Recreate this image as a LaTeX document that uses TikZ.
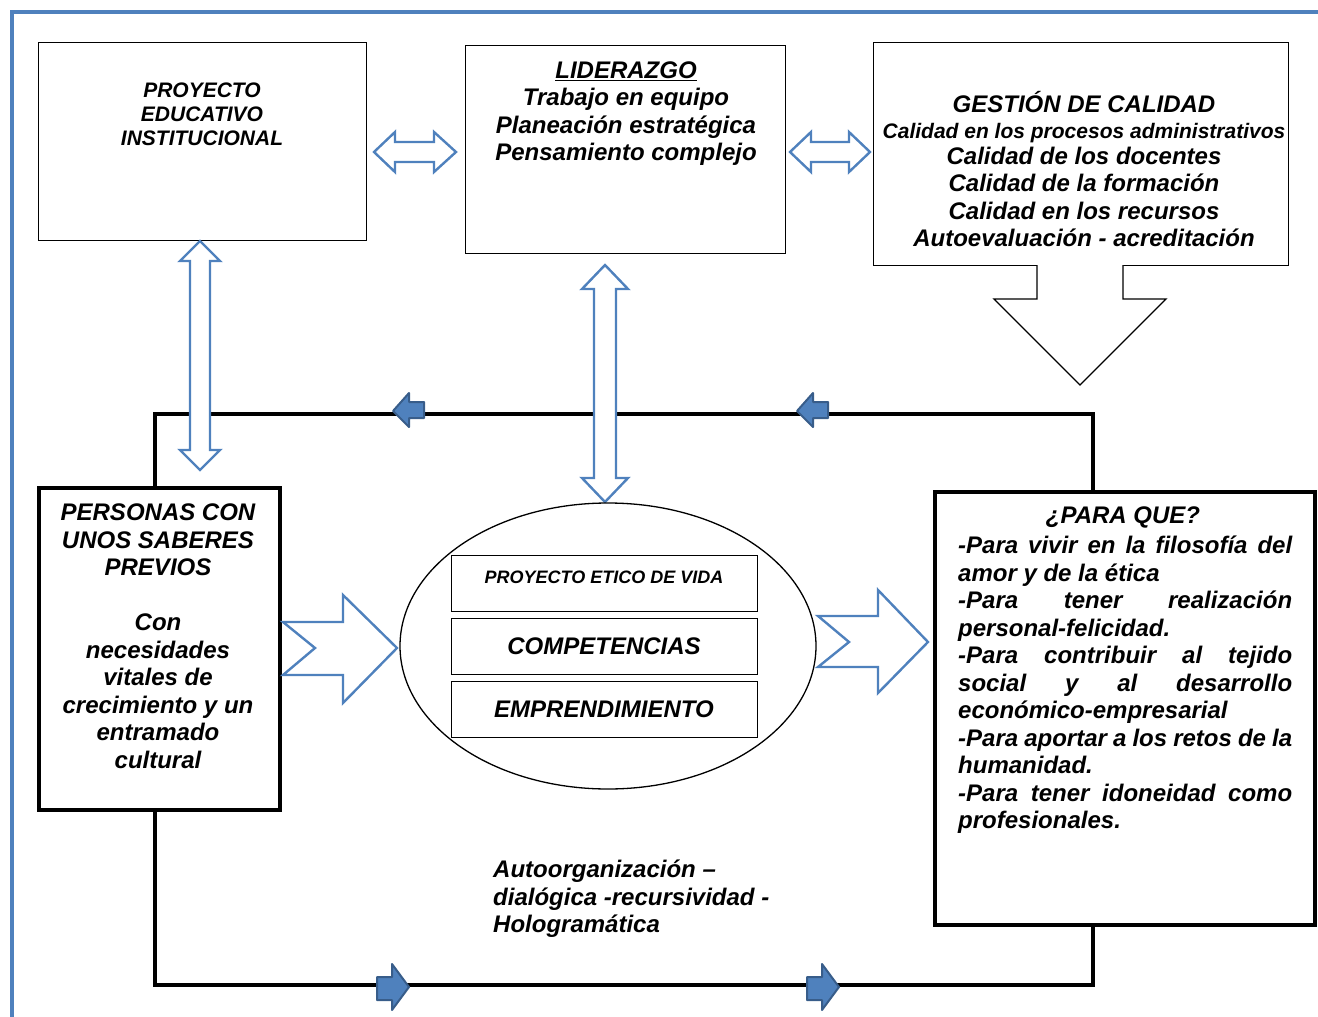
\documentclass[tikz,border=0pt]{standalone}
\usepackage{fontspec}
\setmainfont{Liberation Sans}
\usetikzlibrary{shapes.geometric}
\setlength{\parindent}{0pt}
\definecolor{frameblue}{HTML}{4F81BD}
\definecolor{darkblue}{HTML}{385D8A}
\tikzset{
  txt/.style={font=\bfseries\itshape\fontsize{24}{27.5}\selectfont, align=center, inner sep=0pt},
  thinbox/.style={draw=black, line width=1.3pt, fill=white, inner sep=0pt, anchor=north west},
  thickbox/.style={draw=black, line width=3.8pt, fill=white, inner sep=0pt, anchor=north west},
  inbox/.style={txt, draw=black, line width=1pt, minimum width=306, minimum height=56},
  blockarr/.style={draw=frameblue, line width=2.4pt, fill=white, line join=miter},
  smarr/.style={fill=frameblue, draw=darkblue, line width=2pt, line join=round}
}
\begin{document}
\begin{tikzpicture}[x=1pt, y=-1pt]
    \useasboundingbox (0,0) rectangle (1318,1017);
    % frame and loop
    \draw [frameblue, line width=4.5pt] (12,1017) -- (12,12) -- (1318,12);
    \draw [black, line width=4.2pt] (155,414) rectangle (1093,985);
    \draw [smarr] (393,411) -- (409,393) -- (409,402) -- (424,402) -- (424,418) -- (409,418) -- (409,427) -- cycle;
    \draw [smarr] (797,411) -- (813,393) -- (813,402) -- (828,402) -- (828,418) -- (813,418) -- (813,427) -- cycle;
    \draw [smarr] (377,977) -- (392,977) -- (392,964) -- (409,987) -- (392,1010) -- (392,1000) -- (377,1000) -- cycle;
    \draw [smarr] (807,977) -- (822,977) -- (822,964) -- (839,987) -- (822,1010) -- (822,1000) -- (807,1000) -- cycle;
    % top boxes
    \node [thinbox, minimum width=328, minimum height=198] (pei) at (38,42) {};
    \node [txt, font=\bfseries\itshape\fontsize{21}{24}\selectfont] (peitxt) at (202,114) {PROYECTO\\EDUCATIVO\\INSTITUCIONAL};
    \node [thinbox, minimum width=320, minimum height=208] (lid) at (465,45) {};
    \node [txt] (lidtxt) at (626,113.5) {\underline{LIDERAZGO}\\Trabajo en equipo\\Planeación estratégica\\Pensamiento complejo};
    \node [thinbox, minimum width=415, minimum height=223] (gest) at (873,42) {};
    \node [txt] (gesttxt) at (1084,169) {GESTIÓN DE CALIDAD\\[-1.5pt]{\fontsize{21}{24}\selectfont Calidad en los procesos administrativos}\\[-1.5pt]Calidad de los docentes\\Calidad de la formación\\Calidad en los recursos\\Autoevaluación - acreditación};
    % block arrows between the boxes
    \draw [blockarr] (374,152) -- (395,132) -- (395,142) -- (434,142) -- (434,132) -- (456,152) -- (434,172) -- (434,162) -- (395,162) -- (395,172) -- cycle;
    \draw [blockarr] (790,152) -- (811,132) -- (811,142) -- (849,142) -- (849,132) -- (870,152) -- (849,172) -- (849,162) -- (811,162) -- (811,172) -- cycle;
    \draw [blockarr] (200,241) -- (220,261) -- (210,261) -- (210,450) -- (220,450) -- (200,470) -- (180,450) -- (190,450) -- (190,261) -- (180,261) -- cycle;
    \draw [blockarr] (605,265) -- (628,289) -- (616,289) -- (616,478) -- (628,478) -- (605,502) -- (582,478) -- (594,478) -- (594,289) -- (582,289) -- cycle;
    \draw [black, line width=1.3pt, fill=white] (1037,265) -- (1037,299) -- (994,299) -- (1080,385) -- (1166,299) -- (1123,299) -- (1123,265);
    % middle row
    \node [thickbox, minimum width=241, minimum height=322] (pers) at (37,486) {};
    \node [txt] (perstxt) at (158,636) {PERSONAS CON\\UNOS SABERES\\PREVIOS\\[27.5pt]Con\\necesidades\\vitales de\\crecimiento y un\\entramado\\cultural};
    \node [draw=black, line width=1.3pt, fill=white, ellipse, inner sep=0pt, minimum width=416, minimum height=286] (elip) at (608,646) {};
    \node [inbox] (etico) at (604,583) {};
    \node [txt, font=\bfseries\itshape\fontsize{18}{21}\selectfont] (eticotxt) at (604,577) {PROYECTO ETICO DE VIDA};
    \node [inbox] (compet) at (604,646) {COMPETENCIAS};
    \node [inbox] (empre) at (604,709) {EMPRENDIMIENTO};
    \draw [blockarr] (283,622) -- (343,622) -- (343,595) -- (397,648) -- (343,703) -- (343,675) -- (283,675) -- (315,648) -- cycle;
    \draw [blockarr] (818,616) -- (878,616) -- (878,590) -- (928,642) -- (878,693) -- (878,667) -- (818,667) -- (849,642) -- cycle;
    \node [thickbox, minimum width=380, minimum height=433] (para) at (933,490) {};
    \node [txt] (paratit) at (1123,517) {¿PARA QUE?};
    \node [txt, align=justify, text width=334, anchor=north west] (paratxt) at (958,536) {\tolerance=10000\hbadness=10000\hyphenpenalty=10000
      -Para vivir en la filosofía del\linebreak amor y de la ética\par
      -Para tener realización\linebreak personal-felicidad.\par
      -Para contribuir al tejido\linebreak social y al desarrollo\linebreak económico-empresarial\par
      -Para aportar a los retos de la\linebreak humanidad.\par
      -Para tener idoneidad como\linebreak profesionales.};
    % bottom text
    \node [txt, align=left, anchor=west] (autotxt) at (493,899) {Autoorganización –\\dialógica -recursividad -\\Hologramática};
\end{tikzpicture}
\end{document}
